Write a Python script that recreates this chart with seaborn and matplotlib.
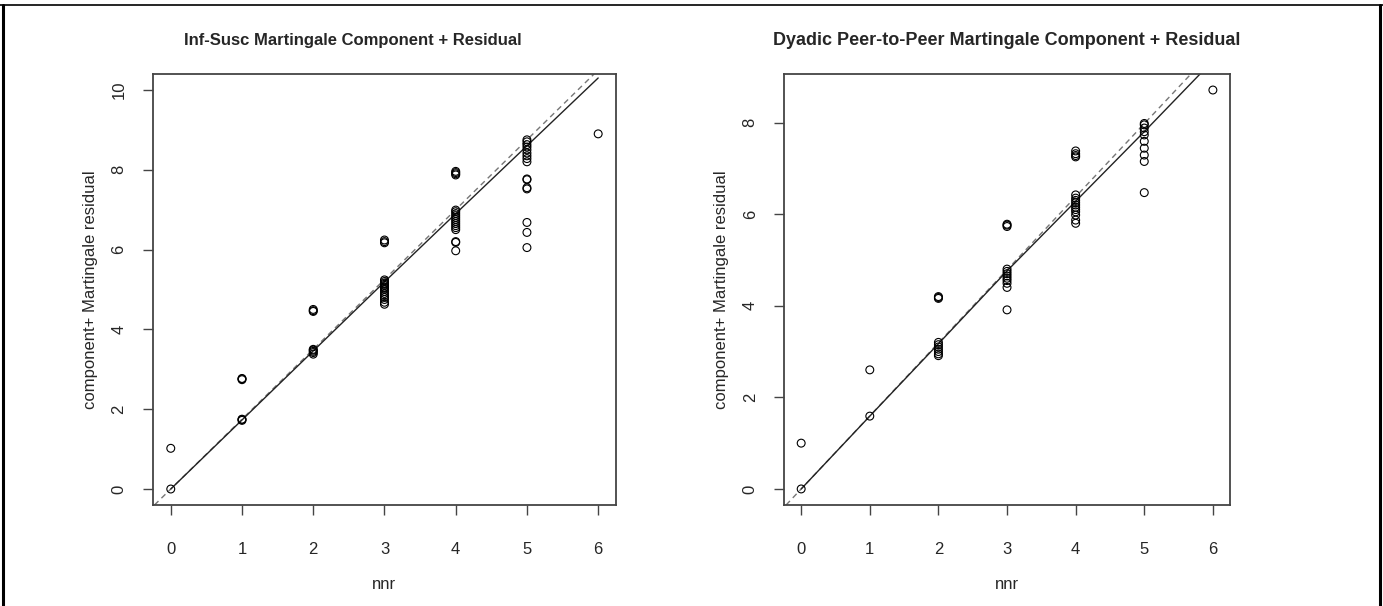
import numpy as np
import pandas as pd
import matplotlib
matplotlib.use("Agg")
import matplotlib.pyplot as plt
from matplotlib.lines import Line2D
import seaborn as sns

# values, one list per nnr level (0..6)
nnr_levels = [0, 1, 2, 3, 4, 5, 6]

inf_susc_vals = [
    [0.0, 1.02],
    [1.72, 1.74, 1.75, 2.74, 2.76, 2.77],
    [3.38, 3.42, 3.45, 3.48, 3.50, 4.45, 4.47, 4.50],
    [4.63, 4.68, 4.75, 4.80, 4.85, 4.90, 4.95, 5.00, 5.03, 5.06, 5.10,
     5.13, 5.16, 5.20, 5.24, 6.17, 6.20, 6.24],
    [5.97, 6.18, 6.20, 6.50, 6.55, 6.60, 6.65, 6.70, 6.75, 6.80, 6.85,
     6.90, 6.95, 6.99, 7.87, 7.90, 7.93, 7.96],
    [6.05, 6.43, 6.68, 7.52, 7.55, 7.75, 7.77, 8.20, 8.28, 8.35, 8.42,
     8.50, 8.57, 8.63, 8.70, 8.75],
    [8.90],
]
inf_susc_smooth = [0.0, 1.73, 3.46, 5.19, 6.90, 8.60, 10.30]
inf_susc_slope = 1.75

dyadic_vals = [
    [0.0, 1.0],
    [1.59, 2.60],
    [2.91, 2.95, 3.00, 3.05, 3.10, 3.15, 3.20, 4.16, 4.18, 4.20],
    [3.91, 4.40, 4.49, 4.55, 4.60, 4.65, 4.70, 4.75, 4.80, 5.73, 5.76, 5.78],
    [5.80, 5.87, 5.98, 6.05, 6.10, 6.15, 6.20, 6.25, 6.30, 6.35, 6.42,
     7.25, 7.28, 7.32, 7.38],
    [6.47, 7.15, 7.29, 7.44, 7.59, 7.73, 7.80, 7.88, 7.95, 7.98],
    [8.71],
]
dyadic_smooth = [0.0, 1.59, 3.17, 4.76, 6.28, 7.80, 9.35]
dyadic_slope = 1.595

titles = ["Inf-Susc Martingale Component + Residual",
          "Dyadic Peer-to-Peer Martingale Component + Residual"]
ylabel = "component+ Martingale residual"
xlabel = "nnr"


def to_frame(vals):
    rows = [(x, v) for x, group in zip(nnr_levels, vals) for v in group]
    return pd.DataFrame(rows, columns=["nnr", "cr"])


sns.set_style("white")
plt.rcParams['font.family'] = ['Liberation Sans', 'DejaVu Sans']

fig = plt.figure(figsize=(13.83, 6.06), dpi=100)
axes = [fig.add_axes([0.1106, 0.1667, 0.3348, 0.7112]),
        fig.add_axes([0.5669, 0.1667, 0.3225, 0.7112])]

panels = [(inf_susc_vals, inf_susc_smooth, inf_susc_slope, (-0.4, 10.4), [0, 2, 4, 6, 8, 10], 12, 0.432),
          (dyadic_vals, dyadic_smooth, dyadic_slope, (-0.35, 9.06), [0, 2, 4, 6, 8], 13, 0.5)]

for ax, (vals, smooth, slope, ylim, yticks, tsize, tx), title in zip(axes, panels, titles):
    df = to_frame(vals)
    sns.scatterplot(data=df, x="nnr", y="cr", ax=ax, marker="o", s=32,
                    facecolors="none", edgecolor="black", linewidth=0.8, zorder=3)
    ax.axline((0, 0), slope=slope, color="#777777", linestyle=(0, (4, 3)), lw=1.0)
    ax.plot(nnr_levels, smooth, color="#222222", lw=1.0)
    ax.set_xlim(-0.25, 6.25)
    ax.set_ylim(*ylim)
    ax.set_xticks(nnr_levels)
    ax.set_yticks(yticks)
    ax.tick_params(axis="both", direction="out", length=7, width=1, color="#444444",
                   labelsize=12, bottom=True, left=True)
    ax.tick_params(axis="x", pad=20)
    ax.tick_params(axis="y", pad=12)
    for lbl in ax.get_yticklabels():
        lbl.set_rotation(90)
        lbl.set_va("center")
    for sp in ax.spines.values():
        sp.set_color("#444444")
        sp.set_linewidth(1.3)
    ax.set_xlabel(xlabel, fontsize=12, labelpad=14)
    ax.set_ylabel(ylabel, fontsize=12, labelpad=10)
    ax.set_title(title, fontsize=tsize, fontweight="bold", pad=21, x=tx)

# frame around the figure
fig.add_artist(Line2D([0.002, 0.002], [0, 0.991], color="black", lw=2.2))
fig.add_artist(Line2D([0.998, 0.998], [0, 0.991], color="black", lw=2.2))
fig.add_artist(Line2D([0, 1], [0.991, 0.991], color="black", lw=1.2))

fig.savefig("out.png", dpi=100)
